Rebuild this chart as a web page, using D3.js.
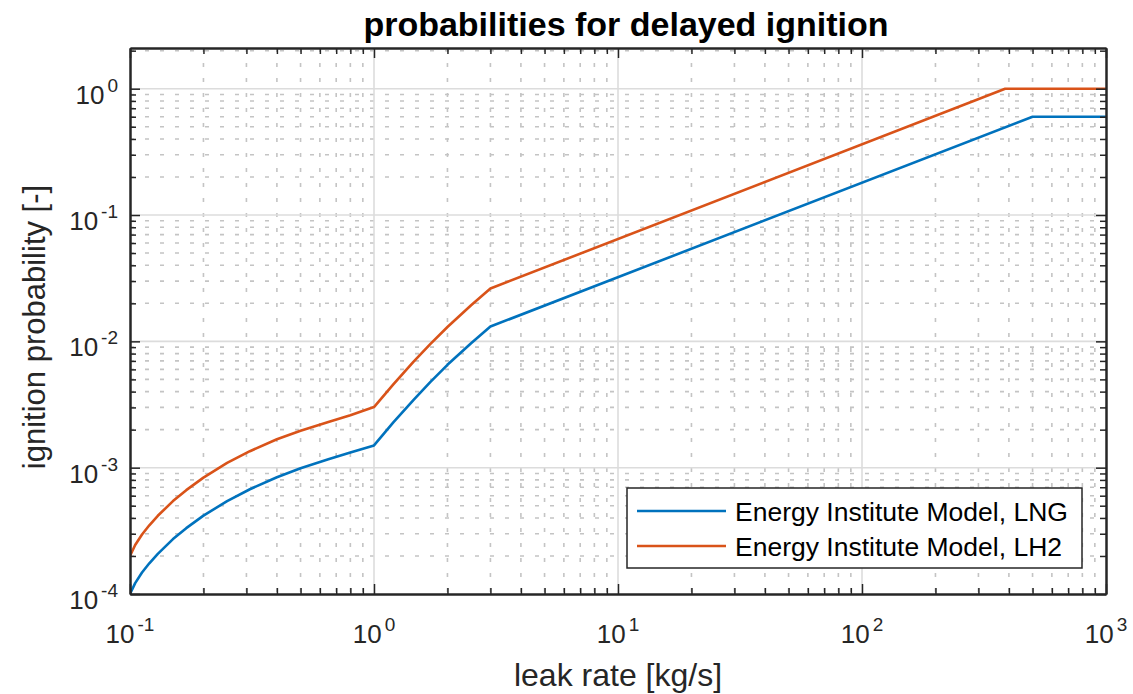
<!DOCTYPE html>
<html>
<head>
<meta charset="utf-8">
<script src="https://cdn.jsdelivr.net/npm/d3@7"></script>
<style>
  body { margin: 0; background: #fff; }
  svg { display: block; font-family: "Liberation Sans", Arial, sans-serif; }
</style>
</head>
<body>
<div id="chart"></div>
<script>
// values
const leakRateLNG = [0.1, 0.105, 0.112, 0.12, 0.13, 0.15, 0.17, 0.2, 0.25, 0.31, 0.4, 0.5, 0.65, 0.8, 1, 1.2, 1.45, 1.7, 2, 2.5, 3, 500, 1000];
const probLNG = [1.0e-4, 1.22e-4, 1.48e-4, 1.75e-4, 2.08e-4, 2.72e-4, 3.32e-4, 4.17e-4, 5.44e-4, 6.75e-4, 8.4e-4, 9.9e-4, 1.165e-3, 1.32e-3, 1.5e-3, 2.28e-3, 3.43e-3, 4.75e-3, 6.52e-3, 9.65e-3, 1.31e-2, 0.6, 0.6];
const leakRateLH2 = [0.1, 0.105, 0.112, 0.12, 0.13, 0.15, 0.17, 0.2, 0.25, 0.31, 0.4, 0.5, 0.65, 0.8, 1, 1.2, 1.45, 1.7, 2, 2.5, 3, 386, 1000];
const probLH2 = [2.0e-4, 2.44e-4, 2.96e-4, 3.5e-4, 4.16e-4, 5.44e-4, 6.64e-4, 8.34e-4, 1.09e-3, 1.35e-3, 1.68e-3, 1.96e-3, 2.3e-3, 2.6e-3, 3.02e-3, 4.56e-3, 6.88e-3, 9.5e-3, 1.3e-2, 1.93e-2, 2.62e-2, 1.0, 1.0];
const seriesNames = ['Energy Institute Model, LNG', 'Energy Institute Model, LH2'];
const seriesColors = ['#0072BD', '#D95319'];
const xTickExps = [-1, 0, 1, 2, 3];
const yTickExps = [-4, -3, -2, -1, 0];
const xLimits = [0.1, 1000];
const yLimits = [1e-4, 2.1];
const titleText = 'probabilities for delayed ignition';
const xLabelText = 'leak rate [kg/s]';
const yLabelText = 'ignition probability [-]';

const W = 1133, H = 694;
const margin = { top: 48, right: 27, bottom: 100, left: 130 };
const innerW = W - margin.left - margin.right;
const innerH = H - margin.top - margin.bottom;
const ink = '#262626';

const x = d3.scaleLog().domain(xLimits).range([0, innerW]);
const y = d3.scaleLog().domain(yLimits).range([innerH, 0]);

const xMajor = xTickExps.map((e) => Math.pow(10, e));
const yMajor = yTickExps.map((e) => Math.pow(10, e));
const minorOf = (exps, lim) => {
  const out = [];
  exps.forEach((e) => {
    for (let m = 2; m <= 9; m++) {
      const v = m * Math.pow(10, e);
      if (v > lim[0] && v < lim[1]) out.push(v);
    }
  });
  return out;
};
const xMinor = minorOf(xTickExps, xLimits);
const yMinor = minorOf(yTickExps, yLimits);

const svg = d3.select('#chart').append('svg').attr('width', W).attr('height', H);
svg.append('rect').attr('width', W).attr('height', H).attr('fill', '#fff');
const g = svg.append('g').attr('transform', `translate(${margin.left},${margin.top})`);

// minor grid (dotted)
g.append('g').selectAll('line').data(xMinor).join('line')
  .attr('x1', (d) => x(d)).attr('x2', (d) => x(d)).attr('y1', 0).attr('y2', innerH)
  .attr('stroke', '#c4c4c4').attr('stroke-width', 1.6).attr('stroke-dasharray', '4,11');
g.append('g').selectAll('line').data(yMinor).join('line')
  .attr('y1', (d) => y(d)).attr('y2', (d) => y(d)).attr('x1', 0).attr('x2', innerW)
  .attr('stroke', '#c4c4c4').attr('stroke-width', 1.6).attr('stroke-dasharray', '4,11');

// major grid (solid)
g.append('g').selectAll('line').data(xMajor.slice(1, -1)).join('line')
  .attr('x1', (d) => x(d)).attr('x2', (d) => x(d)).attr('y1', 0).attr('y2', innerH)
  .attr('stroke', '#dcdcdc').attr('stroke-width', 1.6);
g.append('g').selectAll('line').data(yMajor.slice(1)).join('line')
  .attr('y1', (d) => y(d)).attr('y2', (d) => y(d)).attr('x1', 0).attr('x2', innerW)
  .attr('stroke', '#dcdcdc').attr('stroke-width', 1.6);

// data lines
g.append('clipPath').attr('id', 'plotclip').append('rect')
  .attr('x', 0).attr('y', -2).attr('width', innerW).attr('height', innerH + 4);
const line = d3.line().x((d) => x(d[0])).y((d) => y(d[1]));
const series = [
  d3.zip(leakRateLNG, probLNG),
  d3.zip(leakRateLH2, probLH2)
];
g.append('g').attr('clip-path', 'url(#plotclip)')
  .selectAll('path').data(series).join('path')
  .attr('d', line)
  .attr('fill', 'none')
  .attr('stroke', (d, i) => seriesColors[i])
  .attr('stroke-width', 2.6)
  .attr('stroke-linejoin', 'round');

// axes with inward ticks on all four sides
function styleAxis(sel) {
  sel.selectAll('line').attr('stroke', ink).attr('stroke-width', 1.5);
  sel.select('.domain').attr('stroke', ink).attr('stroke-width', 2);
  sel.selectAll('text').remove();
}
const axisSpecs = [
  [() => d3.axisBottom(x), xMajor, xMinor, `translate(0,${innerH})`],
  [() => d3.axisTop(x), xMajor, xMinor, 'translate(0,0)'],
  [() => d3.axisLeft(y), yMajor, yMinor, 'translate(0,0)'],
  [() => d3.axisRight(y), yMajor, yMinor, `translate(${innerW},0)`]
];
axisSpecs.forEach(([mk, major, minor, tr]) => {
  g.append('g').attr('transform', tr)
    .call(mk().tickValues(minor).tickSize(-6).tickSizeOuter(0).tickFormat(''))
    .call(styleAxis);
  g.append('g').attr('transform', tr)
    .call(mk().tickValues(major).tickSize(-10).tickSizeOuter(0).tickFormat(''))
    .call(styleAxis);
});

// tick labels with superscript exponents
function powLabel(sel, exp) {
  sel.append('tspan').text('10');
  sel.append('tspan').attr('dy', -12).attr('dx', 3).style('font-size', '19px').text(String(exp));
}
g.append('g').selectAll('text').data(xTickExps).join('text')
  .attr('x', (d) => x(Math.pow(10, d)))
  .attr('y', innerH + 49)
  .attr('text-anchor', 'middle')
  .attr('fill', ink)
  .style('font-size', '26px')
  .each(function (d) { powLabel(d3.select(this), d); });
g.append('g').selectAll('text').data(yTickExps).join('text')
  .attr('x', -12)
  .attr('y', (d) => y(Math.pow(10, d)) + 15)
  .attr('text-anchor', 'end')
  .attr('fill', ink)
  .style('font-size', '26px')
  .each(function (d) { powLabel(d3.select(this), d); });

// axis labels and title
svg.append('text')
  .attr('x', margin.left + innerW / 2).attr('y', 686)
  .attr('text-anchor', 'middle').attr('fill', ink)
  .style('font-size', '32px').text(xLabelText);
svg.append('text')
  .attr('transform', `translate(45,${margin.top + innerH / 2 + 6}) rotate(-90)`)
  .attr('text-anchor', 'middle').attr('fill', ink)
  .style('font-size', '31px').text(yLabelText);
svg.append('text')
  .attr('x', margin.left + innerW / 2 + 8).attr('y', 36)
  .attr('text-anchor', 'middle').attr('fill', '#000')
  .style('font-size', '34px').style('font-weight', 700).text(titleText);

// legend
const lg = svg.append('g').attr('transform', 'translate(627,488)');
lg.append('rect').attr('width', 455).attr('height', 80)
  .attr('fill', '#fff').attr('stroke', ink).attr('stroke-width', 1.5);
const rows = lg.selectAll('g.row').data(seriesNames).join('g')
  .attr('class', 'row')
  .attr('transform', (d, i) => `translate(0,${23 + i * 35})`);
rows.append('line').attr('x1', 10).attr('x2', 99).attr('y1', 0).attr('y2', 0)
  .attr('stroke', (d, i) => seriesColors[i]).attr('stroke-width', 2.6);
rows.append('text').attr('x', 108).attr('y', 9.5)
  .attr('fill', '#000').style('font-size', '26.5px').text((d) => d);
</script>
</body>
</html>
